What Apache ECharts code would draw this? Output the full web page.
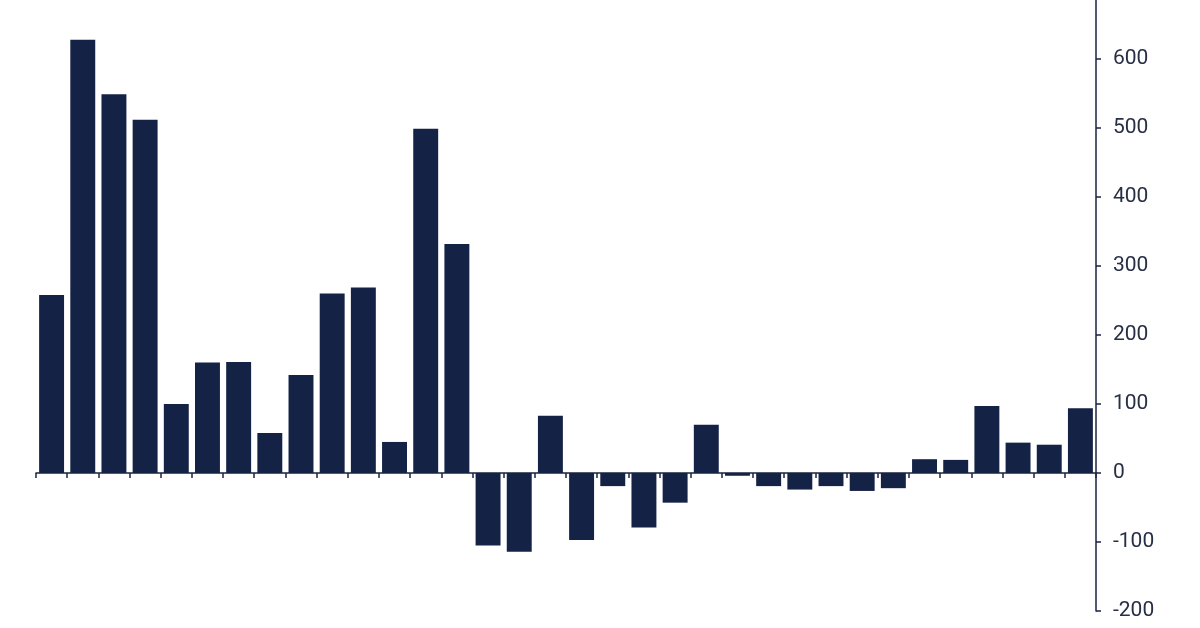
<!DOCTYPE html>
<html>
<head>
<meta charset="utf-8">
<script src="https://cdn.jsdelivr.net/npm/echarts@6/dist/echarts.min.js"></script>
<style>html,body{margin:0;padding:0;background:#fff}#c{width:1200px;height:628px}</style>
</head>
<body>
<div id="c"></div>
<script>
const categories = Array.from({length: 34}, (_, i) => 'P' + (i + 1));
const values = [258, 628, 549, 512, 100, 160, 161, 58, 142, 260, 269, 45, 499, 332,
  -105, -114, 83, -97, -19, -79, -43, 70, -4, -19,
  -24, -19, -26, -22, 20, 19, 97, 44, 41, 94];
const yTicks = [-200, -100, 0, 100, 200, 300, 400, 500, 600, 700];

const chart = echarts.init(document.getElementById('c'));
chart.setOption({
  animation: false,
  backgroundColor: '#ffffff',
  grid: {left: 36, right: 104, top: -10, bottom: 17, containLabel: false, outerBoundsMode: 'none'},
  xAxis: {
    type: 'category',
    data: categories,
    axisLine: {onZero: true, lineStyle: {color: '#1b2440', width: 1.5}},
    axisTick: {show: true, length: 5, lineStyle: {color: '#1b2440', width: 1.5}},
    axisLabel: {show: false},
    splitLine: {show: false}
  },
  yAxis: {
    type: 'value',
    position: 'right',
    min: yTicks[0],
    max: yTicks[yTicks.length - 1],
    interval: 100,
    axisLine: {show: true, lineStyle: {color: '#1b2440', width: 1.5}},
    axisTick: {show: true, length: 5, lineStyle: {color: '#1b2440', width: 1.5}},
    axisLabel: {margin: 17, fontFamily: 'Roboto', fontSize: 21, color: '#262f45'},
    splitLine: {show: false}
  },
  series: [{
    type: 'bar',
    data: values,
    barCategoryGap: '20%',
    itemStyle: {color: '#142246'}
  }]
});
</script>
</body>
</html>
